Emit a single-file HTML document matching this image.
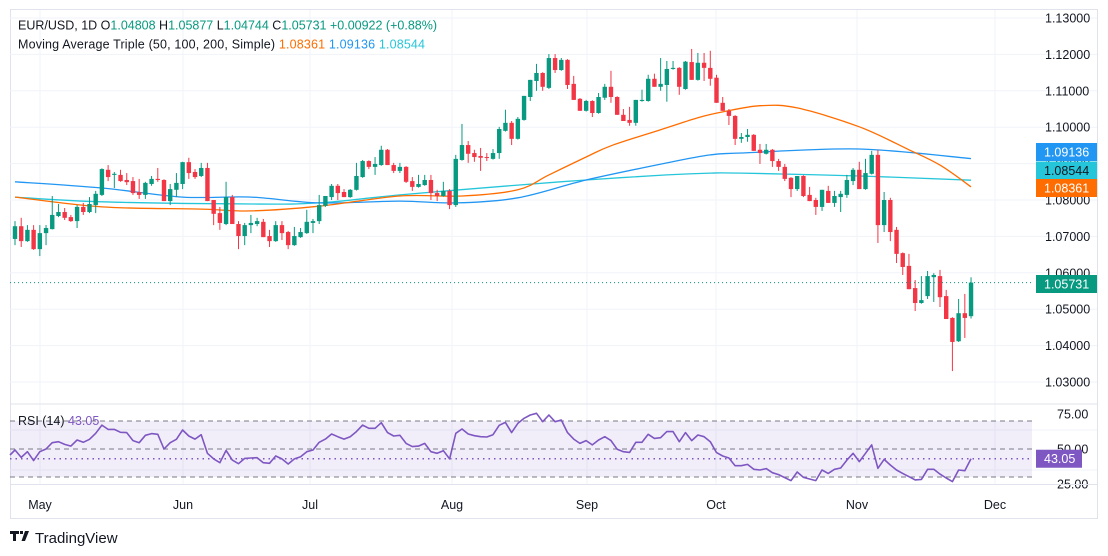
<!DOCTYPE html>
<html><head><meta charset="utf-8"><title>EUR/USD 1D</title>
<style>
html,body{margin:0;padding:0;background:#fff;}
svg{display:block;font-family:"Liberation Sans",sans-serif;}
</style></head>
<body>
<svg id="chart" width="1108" height="556" viewBox="0 0 1108 556" xmlns="http://www.w3.org/2000/svg">
  <rect x="0" y="0" width="1108" height="556" fill="#ffffff"/>
  <rect x="10.5" y="9.5" width="1087" height="509" fill="none" stroke="#e0e3eb"/>
  <g id="grid"></g>
  <g id="ma"></g>
  <g id="candles"></g>
  <g id="rsi"></g>
  <g id="axes"></g>
  <line x1="10" y1="404" x2="1097" y2="404" stroke="#e0e3eb"/>
  <line x1="10" y1="484.5" x2="1097" y2="484.5" stroke="#e0e3eb"/>
  <g font-size="12.5">
    <text x="18" y="29.5" fill="#131722" textLength="419">EUR/USD, 1D  O<tspan fill="#089981">1.04808</tspan>  H<tspan fill="#089981">1.05877</tspan>  L<tspan fill="#089981">1.04744</tspan>  C<tspan fill="#089981">1.05731</tspan>  <tspan fill="#089981">+0.00922 (+0.88%)</tspan></text>
    <text x="18" y="48.5" fill="#131722" textLength="407">Moving Average Triple (50, 100, 200, Simple)  <tspan fill="#ff6d00">1.08361</tspan>  <tspan fill="#2196f3">1.09136</tspan>  <tspan fill="#26c6da">1.08544</tspan></text>
    <text x="18" y="425" fill="#131722" font-size="12.5">RSI (14) <tspan fill="#7e57c2">43.05</tspan></text>
  </g>
  <g>
    <path d="M10 531h9v3h-3v7h-3v-7h-3z M20 531h3v3h-3z M25 531h4l-4 10h-3.5z" fill="#131722"/>
    <text x="35" y="543" font-size="15" fill="#131722">TradingView</text>
  </g>
</svg>
<script>
const opens=[1.0693,1.0728,1.0687,1.0718,1.0665,1.0709,1.0720,1.0756,1.0767,1.0753,1.0742,1.0781,1.0767,1.0786,1.0814,1.0883,1.0869,1.0869,1.0855,1.0852,1.0822,1.0814,1.0844,1.0858,1.0855,1.0797,1.0828,1.0844,1.0904,1.0877,1.0866,1.0888,1.0800,1.0764,1.0734,1.0808,1.0734,1.0701,1.0731,1.0734,1.0740,1.0701,1.0687,1.0731,1.0712,1.0676,1.0698,1.0709,1.0737,1.0742,1.0784,1.0808,1.0839,1.0822,1.0808,1.0828,1.0863,1.0907,1.0891,1.0896,1.0938,1.0896,1.0880,1.0891,1.0852,1.0836,1.0841,1.0855,1.0819,1.0811,1.0825,1.0786,1.0910,1.0951,1.0929,1.0921,1.0918,1.0913,1.0929,1.0990,1.1012,1.0968,1.1020,1.1083,1.1127,1.1149,1.1108,1.1190,1.1157,1.1185,1.1119,1.1078,1.1045,1.1072,1.1039,1.1081,1.1111,1.1083,1.1034,1.1020,1.1012,1.1072,1.1072,1.1133,1.1111,1.1116,1.1160,1.1163,1.1105,1.1179,1.1130,1.1177,1.1163,1.1136,1.1067,1.1045,1.1031,1.0968,1.0973,1.0979,1.0938,1.0927,1.0938,1.0907,1.0891,1.0861,1.0830,1.0866,1.0814,1.0800,1.0781,1.0825,1.0792,1.0808,1.0814,1.0852,1.0883,1.0830,1.0872,1.0924,1.0731,1.0800,1.0718,1.0654,1.0619,1.0558,1.0517,1.0536,1.0588,1.0591,1.0536,1.0476,1.0412,1.0489,1.04808];
const highs=[1.0742,1.0751,1.0731,1.0731,1.0731,1.0731,1.0811,1.0789,1.0778,1.0759,1.0786,1.0792,1.0808,1.0825,1.0887,1.0896,1.0877,1.0883,1.0874,1.0863,1.0858,1.0850,1.0866,1.0888,1.0857,1.0844,1.0874,1.0905,1.0916,1.0885,1.0902,1.0902,1.0800,1.0781,1.0850,1.0814,1.0742,1.0737,1.0759,1.0751,1.0748,1.0718,1.0742,1.0742,1.0715,1.0726,1.0723,1.0773,1.0748,1.0814,1.0811,1.0844,1.0844,1.0830,1.0830,1.0902,1.0910,1.0909,1.0918,1.0949,1.0940,1.0902,1.0902,1.0893,1.0863,1.0869,1.0869,1.0869,1.0828,1.0850,1.0830,1.0924,1.1009,1.0962,1.0938,1.0943,1.0929,1.0940,1.1001,1.1048,1.1017,1.1028,1.1086,1.1130,1.1174,1.1151,1.1201,1.1201,1.1190,1.1187,1.1141,1.1080,1.1075,1.1074,1.1094,1.1119,1.1155,1.1085,1.1050,1.1056,1.1075,1.1103,1.1144,1.1147,1.1190,1.1182,1.1182,1.1165,1.1182,1.1215,1.1204,1.1204,1.1210,1.1144,1.1083,1.1050,1.1033,1.0984,1.0995,1.0981,1.0954,1.0954,1.0940,1.0913,1.0899,1.0863,1.0866,1.0868,1.0836,1.0806,1.0828,1.0839,1.0825,1.0825,1.0869,1.0888,1.0905,1.0913,1.0935,1.0938,1.0822,1.0806,1.0726,1.0656,1.0652,1.0580,1.0591,1.0605,1.0599,1.0608,1.0553,1.0478,1.0528,1.0542,1.05877];
const lows=[1.0676,1.0671,1.0685,1.0663,1.0646,1.0676,1.0719,1.0753,1.0745,1.0740,1.0723,1.0759,1.0764,1.0764,1.0811,1.0852,1.0833,1.0850,1.0841,1.0814,1.0803,1.0803,1.0839,1.0850,1.0797,1.0786,1.0808,1.0830,1.0858,1.0858,1.0863,1.0797,1.0731,1.0718,1.0731,1.0734,1.0665,1.0676,1.0709,1.0728,1.0698,1.0671,1.0685,1.0690,1.0665,1.0674,1.0696,1.0707,1.0709,1.0734,1.0781,1.0800,1.0800,1.0808,1.0806,1.0826,1.0861,1.0885,1.0869,1.0894,1.0896,1.0874,1.0874,1.0847,1.0825,1.0834,1.0839,1.0800,1.0797,1.0809,1.0775,1.0781,1.0908,1.0902,1.0905,1.0880,1.0907,1.0911,1.0913,1.0988,1.0951,1.0966,1.1018,1.1072,1.1100,1.1100,1.1105,1.1149,1.1155,1.1105,1.1075,1.1045,1.1043,1.1028,1.1037,1.1075,1.1067,1.1034,1.1017,1.1004,1.1004,1.1070,1.1070,1.1111,1.1100,1.1070,1.1158,1.1089,1.1103,1.1130,1.1128,1.1127,1.1114,1.1067,1.1045,1.1006,1.0951,1.0957,1.0960,1.0935,1.0899,1.0925,1.0891,1.0880,1.0852,1.0808,1.0825,1.0808,1.0797,1.0759,1.0770,1.0792,1.0781,1.0767,1.0806,1.0841,1.0830,1.0828,1.0870,1.0682,1.0712,1.0687,1.0627,1.0594,1.0555,1.0495,1.0515,1.0528,1.0520,1.0506,1.0473,1.0330,1.0410,1.0421,1.04744];
const closes=[1.0728,1.0687,1.0718,1.0665,1.0709,1.0723,1.0759,1.0767,1.0751,1.0742,1.0781,1.0767,1.0789,1.0817,1.0885,1.0863,1.0872,1.0852,1.0849,1.0819,1.0814,1.0847,1.0858,1.0855,1.0797,1.0830,1.0847,1.0904,1.0874,1.0863,1.0888,1.0797,1.0762,1.0737,1.0808,1.0734,1.0701,1.0731,1.0737,1.0742,1.0698,1.0687,1.0731,1.0709,1.0676,1.0701,1.0712,1.0740,1.0742,1.0786,1.0811,1.0839,1.0819,1.0808,1.0828,1.0866,1.0907,1.0891,1.0899,1.0938,1.0896,1.0880,1.0891,1.0850,1.0836,1.0844,1.0855,1.0819,1.0811,1.0825,1.0786,1.0913,1.0951,1.0927,1.0918,1.0916,1.0916,1.0929,1.0995,1.1012,1.0968,1.1023,1.1086,1.1130,1.1149,1.1111,1.1190,1.1157,1.1185,1.1116,1.1075,1.1045,1.1072,1.1039,1.1083,1.1111,1.1083,1.1034,1.1017,1.1012,1.1075,1.1075,1.1133,1.1111,1.1119,1.1160,1.1163,1.1111,1.1180,1.1130,1.1177,1.1163,1.1133,1.1067,1.1045,1.1031,1.0968,1.0973,1.0979,1.0935,1.0929,1.0938,1.0907,1.0891,1.0858,1.0830,1.0866,1.0811,1.0797,1.0781,1.0828,1.0792,1.0811,1.0817,1.0855,1.0883,1.0830,1.0874,1.0924,1.0731,1.0800,1.0712,1.0652,1.0616,1.0555,1.0517,1.0525,1.0591,1.0594,1.0533,1.0473,1.0410,1.0489,1.0476,1.05731];
const rsiValues=[49.3,44.0,48.1,41.7,48.1,50.0,54.5,55.2,53.3,52.1,56.4,54.8,56.9,61.2,67.1,64.0,64.0,61.9,61.7,56.0,54.5,59.8,61.0,60.5,50.0,54.5,56.9,63.6,59.3,57.1,60.2,46.9,42.9,40.2,49.0,42.1,39.5,43.3,43.6,43.8,40.2,39.8,45.0,42.9,39.3,42.9,44.5,48.1,49.3,54.8,57.1,60.7,58.8,57.1,58.8,62.4,67.1,64.8,64.8,68.8,61.7,59.3,59.8,54.0,51.7,52.1,54.0,48.1,46.9,48.8,42.9,61.2,64.3,60.7,59.5,58.8,58.6,60.2,66.9,69.0,61.7,68.3,
71.9,74.3,75.5,69.5,74.3,69.5,70.7,61.7,57.1,54.0,56.0,52.9,56.4,58.8,56.0,49.8,48.1,47.6,54.8,54.8,60.5,57.6,58.1,62.4,62.4,55.2,61.7,56.0,60.0,58.8,55.2,47.4,45.0,43.6,38.1,38.1,39.0,35.5,35.0,36.0,33.1,31.7,29.5,27.4,33.6,29.8,28.6,27.4,35.0,32.6,35.5,36.4,42.1,46.9,41.0,46.9,52.9,36.2,42.6,38.6,35.0,32.6,30.2,27.9,28.3,35.5,35.5,32.1,29.3,26.7,35.0,34.5,43.05];
const ma50Idx=[0,14,30,38,49,62,72,81,86,92,96,104,110,114,120,126,136,144,149,154];
const ma50Vals=[1.0808,1.0781,1.0775,1.0770,1.0783,1.0811,1.0811,1.0828,1.0869,1.0918,1.0949,1.0993,1.1026,1.1042,1.1059,1.1053,1.1001,1.0938,1.0896,1.08361];
const ma100Idx=[0,14,27,38,49,62,71,81,92,105,112,117,136,154];
const ma100Vals=[1.0850,1.0833,1.0808,1.0808,1.0792,1.0797,1.0792,1.0806,1.0855,1.0902,1.0924,1.0929,1.0940,1.09136];
const ma200Idx=[0,14,38,49,62,81,92,105,112,117,136,154];
const ma200Vals=[1.0808,1.0795,1.0789,1.0792,1.0814,1.0841,1.0855,1.0869,1.0874,1.0874,1.0866,1.08544];
const priceTicks=[1.03,1.04,1.05,1.06,1.07,1.08,1.09,1.10,1.11,1.12,1.13];
const rsiTicks=[75,50,25];
const monthLabels=["May","Jun","Jul","Aug","Sep","Oct","Nov","Dec"];
const monthX=[40,183,310,452,587,716,857,995];

const NS="http://www.w3.org/2000/svg";
function el(tag,attrs,parent){const e=document.createElementNS(NS,tag);for(const k in attrs)e.setAttribute(k,attrs[k]);parent.appendChild(e);return e;}
function xOf(i){return 15+i*6.208;}
function yP(p){return 18+(1.13-p)*3640;}
function yR(v){return 421+(70-v)*1.4;}
const grid=document.getElementById('grid'),cg=document.getElementById('candles'),mg=document.getElementById('ma'),rg=document.getElementById('rsi'),ax=document.getElementById('axes');
const PR=1032;
priceTicks.forEach(t=>{const l=el('line',{x1:10,x2:1097,y1:yP(t),y2:yP(t),stroke:'#f0f3fa'},grid);

});
monthX.forEach(x=>{const l=el('line',{x1:x,x2:x,y1:10,y2:484,stroke:'#f0f3fa'},grid);

});
[430,470].forEach(y=>{const l=el('line',{x1:10,x2:1097,y1:y,y2:y,stroke:'#f0f3fa'},grid);

});
function maPath(idx,vals,color,name){
 const pts=idx.map((i,k)=>[xOf(i),yP(vals[k])]);
 let d='M'+pts[0][0].toFixed(1)+' '+pts[0][1].toFixed(1);
 for(let k=0;k<pts.length-1;k++){
  const p0=pts[Math.max(0,k-1)],p1=pts[k],p2=pts[k+1],p3=pts[Math.min(pts.length-1,k+2)];
  const c1=[p1[0]+(p2[0]-p0[0])/6,p1[1]+(p2[1]-p0[1])/6],c2=[p2[0]-(p3[0]-p1[0])/6,p2[1]-(p3[1]-p1[1])/6];
  d+='C'+c1[0].toFixed(1)+' '+c1[1].toFixed(1)+' '+c2[0].toFixed(1)+' '+c2[1].toFixed(1)+' '+p2[0].toFixed(1)+' '+p2[1].toFixed(1);
 }
 const p=el('path',{d:d,fill:'none',stroke:color,'stroke-width':1.3,'stroke-linejoin':'round'},mg);
 
 }
maPath(ma200Idx,ma200Vals,'#26c6da','ma200-line');
maPath(ma100Idx,ma100Vals,'#2196f3','ma100-line');
maPath(ma50Idx,ma50Vals,'#ff6d00','ma50-line');
for(let i=0;i<closes.length;i++){
 const up=closes[i]>=opens[i];const c=up?'#089981':'#f23645';const x=xOf(i);
 const w=el('line',{x1:x,x2:x,y1:yP(highs[i]),y2:yP(lows[i]),stroke:c,'stroke-width':1},cg);
 
 
 const top=yP(Math.max(opens[i],closes[i])),bot=yP(Math.min(opens[i],closes[i]));
 const b=el('rect',{x:x-2.2,y:top,width:4.4,height:Math.max(1,bot-top),fill:c},cg);
 
 
}
const lp=closes[closes.length-1];
const lpl=el('line',{x1:10,x2:PR,y1:yP(lp),y2:yP(lp),stroke:'#089981','stroke-dasharray':'1 3'},cg);


const band=el('rect',{x:10,y:yR(70),width:PR-10,height:yR(30)-yR(70),fill:'#7e57c2','fill-opacity':0.1},rg);


[70,50,30].forEach(v=>{const l=el('line',{x1:10,x2:PR,y1:yR(v),y2:yR(v),stroke:'#787b86','stroke-dasharray':'5 4'},rg);

});
const rlast=rsiValues[rsiValues.length-1];
const rdl=el('line',{x1:10,x2:PR,y1:yR(rlast),y2:yR(rlast),stroke:'#7e57c2','stroke-dasharray':'1.5 4','stroke-width':1.5},rg);


let rd='M10 '+yR(45.7).toFixed(1);rsiValues.forEach((v,i)=>{rd+='L'+xOf(i).toFixed(1)+' '+yR(v).toFixed(1);});
const rl=el('path',{d:rd,fill:'none',stroke:'#7e57c2','stroke-width':1.6,'stroke-linejoin':'round'},rg);


priceTicks.forEach(t=>{const tx=el('text',{x:1045,y:yP(t)+4.5,'font-size':12.5,fill:'#131722'},ax);tx.textContent=t.toFixed(5);

});
rsiTicks.forEach(t=>{const tx=el('text',{x:1057,y:yR(t)+4.5,'font-size':12.5,fill:'#131722'},ax);tx.textContent=t.toFixed(2);

});
function box(v,y,color,tc,name){const r=el('rect',{x:1036,y:y-9,width:61,height:18,fill:color},ax);


const t=el('text',{x:1044,y:y+4.5,'font-size':12.5,fill:tc},ax);t.textContent=v;

}
box(ma100Vals[ma100Vals.length-1].toFixed(5),152,'#2196f3','#fff','ma100-price');
box(ma200Vals[ma200Vals.length-1].toFixed(5),170.5,'#26c6da','#131722','ma200-price');
box(ma50Vals[ma50Vals.length-1].toFixed(5),188,'#ff6d00','#fff','ma50-price');
box(lp.toFixed(5),284,'#089981','#fff','last-price');
const rb=el('rect',{x:1036,y:yR(rlast)-9,width:46,height:18,fill:'#7e57c2'},ax);


const rt=el('text',{x:1044,y:yR(rlast)+4.5,'font-size':12.5,fill:'#fff'},ax);rt.textContent=rlast.toFixed(2);


monthLabels.forEach((m,k)=>{const t=el('text',{x:monthX[k],y:509,'font-size':12.5,fill:'#131722','text-anchor':'middle'},ax);t.textContent=m;

});
</script>
</body></html>
